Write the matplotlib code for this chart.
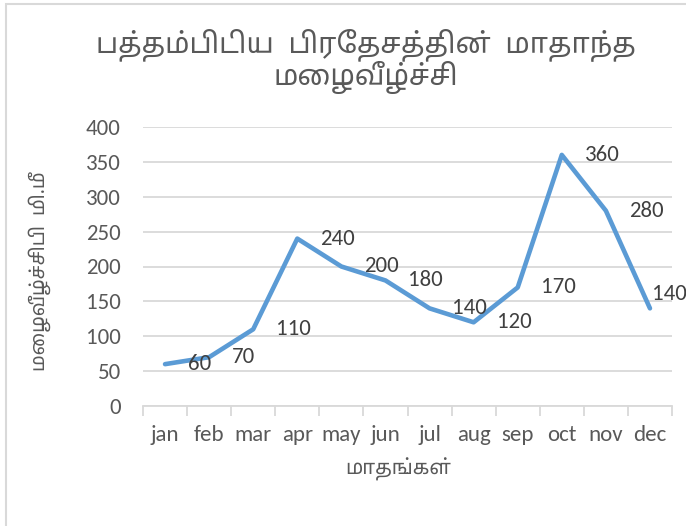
import matplotlib
matplotlib.use('Agg')
import matplotlib.pyplot as plt
from matplotlib.patches import Rectangle

months = ['jan', 'feb', 'mar', 'apr', 'may', 'jun', 'jul', 'aug', 'sep', 'oct', 'nov', 'dec']
rainfall = [60, 70, 110, 240, 200, 180, 140, 120, 170, 360, 280, 140]
yticks = [0, 50, 100, 150, 200, 250, 300, 350, 400]

title_l1 = 'பத்தம்பிடிய  பிரதேசத்தின்  மாதாந்த'
title_l2 = 'மழைவீழ்ச்சி'
xlabel = 'மாதங்கள்'
ylabel = 'மழைவீழ்ச்சிபி  மி.மீ'

TAMIL = ['Noto Sans Tamil', 'DejaVu Sans']
LATIN = ['Carlito', 'Lato', 'DejaVu Sans']
TXT = '#595959'
GRID = '#d9d9d9'
FS = 16.5


def visual(s):
    # matplotlib does no shaping: put the prefix vowel signs before their consonant
    out = []
    for ch in s:
        if ch in '\u0bc6\u0bc7\u0bc8' and out:
            out.insert(len(out) - 1, ch)
        else:
            out.append(ch)
    return ''.join(out)


W, H = 686, 526
fig = plt.figure(figsize=(W / 100, H / 100), dpi=100)
fig.patch.set_facecolor('white')

# chart border (only left and top edges are in the crop)
fig.patches.append(Rectangle((6 / W, -0.1), 1.2, (H - 4) / H + 0.1, transform=fig.transFigure,
                             fill=False, edgecolor=GRID, lw=1.5))

ax = fig.add_axes([143 / W, 1 - 406 / H, (672 - 143) / W, (406 - 127) / H])
x = list(range(len(months)))
ax.plot(x, rainfall, color='#5b9bd5', lw=3.3, solid_joinstyle='round', solid_capstyle='round', zorder=3)

for xi, v in zip(x, rainfall):
    # last label is pushed back inside the chart, like Excel does
    off = (1.5, 10) if xi == len(months) - 1 else (16.5, 0)
    ax.annotate(str(v), (xi, v), xytext=off, textcoords='offset points',
                ha='left', va='center', fontsize=FS, color='#404040', family=LATIN,
                annotation_clip=False, zorder=4)

ax.set_xlim(-0.5, len(months) - 0.5)
ax.set_ylim(0, 400)
ax.set_yticks(yticks)
ax.set_yticklabels([str(t) for t in yticks], family=LATIN, fontsize=FS, color=TXT)
ax.tick_params(axis='y', length=0, pad=16)
ax.yaxis.grid(True, color=GRID, lw=1.3)
ax.set_axisbelow(True)

ax.set_xticks([i - 0.5 for i in range(len(months) + 1)])
ax.set_xticklabels([])
ax.set_xticks(x, minor=True)
ax.set_xticklabels(months, minor=True, family=LATIN, fontsize=FS, color=TXT)
ax.tick_params(axis='x', which='major', length=7, color=GRID, width=1.3)
ax.tick_params(axis='x', which='minor', length=0, pad=14)

for s in ['top', 'right', 'left']:
    ax.spines[s].set_visible(False)
ax.spines['bottom'].set_color(GRID)
ax.spines['bottom'].set_linewidth(1.3)

fig.text(366 / W, 1 - 45 / H, visual(title_l1), ha='center', va='center',
         fontsize=20.5, color=TXT, family=TAMIL)
fig.text(366 / W, 1 - 78 / H, visual(title_l2), ha='center', va='center',
         fontsize=20.5, color=TXT, family=TAMIL)
fig.text(398 / W, 1 - 469 / H, visual(xlabel), ha='center', va='center',
         fontsize=14.5, color=TXT, family=TAMIL)
fig.text(40 / W, 1 - 271 / H, visual(ylabel), ha='center', va='center', rotation=90,
         fontsize=14, color=TXT, family=TAMIL)

fig.savefig('out.png', dpi=100)
